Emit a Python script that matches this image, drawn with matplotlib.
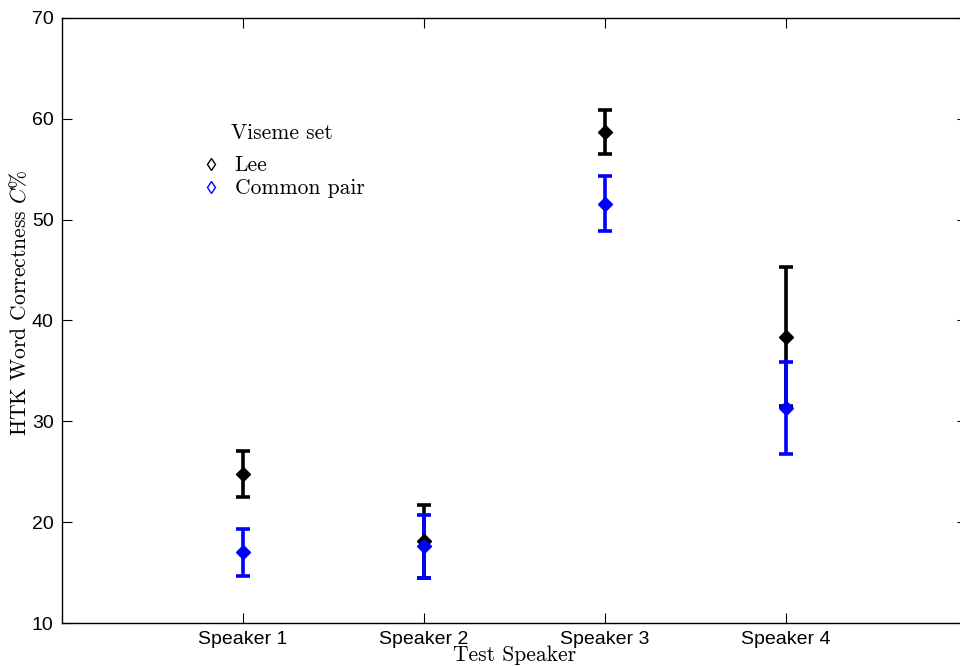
import matplotlib
matplotlib.use('Agg')
from matplotlib import pyplot as plt
import numpy as np

speakers = ['Speaker 1', 'Speaker 2', 'Speaker 3', 'Speaker 4']
lee_mean = [24.8, 18.1, 58.7, 38.4]
lee_err = [2.3, 3.6, 2.2, 6.9]
common_mean = [17.0, 17.6, 51.6, 31.3]
common_err = [2.35, 3.1, 2.75, 4.55]

plt.rcParams['mathtext.fontset'] = 'cm'
plt.rcParams['axes.unicode_minus'] = False
serif = {'family': 'cmr10', 'size': 15.5}

fig = plt.figure(figsize=(9.6, 6.66), dpi=100)
ax = fig.add_axes([62 / 960, 1 - 623 / 666, 905 / 960, 605 / 666])

x = np.arange(1, len(speakers) + 1)
for mean, err, col, name in [(lee_mean, lee_err, 'black', 'Lee'),
                             (common_mean, common_err, 'blue', 'Common pair')]:
	ax.errorbar(x, mean, yerr=err, fmt='none', ecolor=col, elinewidth=2.6,
				capsize=5, capthick=2.6, zorder=2)
	ax.plot(x, mean, 'D', color=col, ms=7, zorder=3)
	# hollow marker for the legend only
	ax.plot([], [], 'd', mfc='none', mec=col, ms=6, mew=1.0, ls='none', label=name)

ax.set_xlim(0, 5)
ax.set_ylim(10, 70)
ax.set_xticks(x)
ax.set_xticklabels(speakers)
ax.set_yticks(np.arange(10, 71, 10))
ax.tick_params(direction='in', length=7, width=0.8, top=True, right=True,
			   labelsize=14, pad=6)
for lab in ax.get_xticklabels() + ax.get_yticklabels():
	lab.set_family('Liberation Sans')
for s in ax.spines.values():
	s.set_linewidth(1.0)

ax.set_xlabel('Test Speaker', fontdict=serif, labelpad=-2)
ax.set_ylabel('HTK Word Correctness $C\\%$', fontdict=serif)
ax.yaxis.set_label_coords(-0.035, 0.53)

leg = ax.legend(title='Viseme set', loc='upper left', bbox_to_anchor=(0.136, 0.85),
				frameon=False, prop={'family': 'cmr10', 'size': 15.5},
				handletextpad=0.6, handlelength=1.0, labelspacing=0.15,
				borderpad=0.2)
leg.get_title().set_fontproperties(matplotlib.font_manager.FontProperties(family='cmr10', size=15.5))
leg._legend_box.sep = 9

fig.savefig('out.png', dpi=100)
